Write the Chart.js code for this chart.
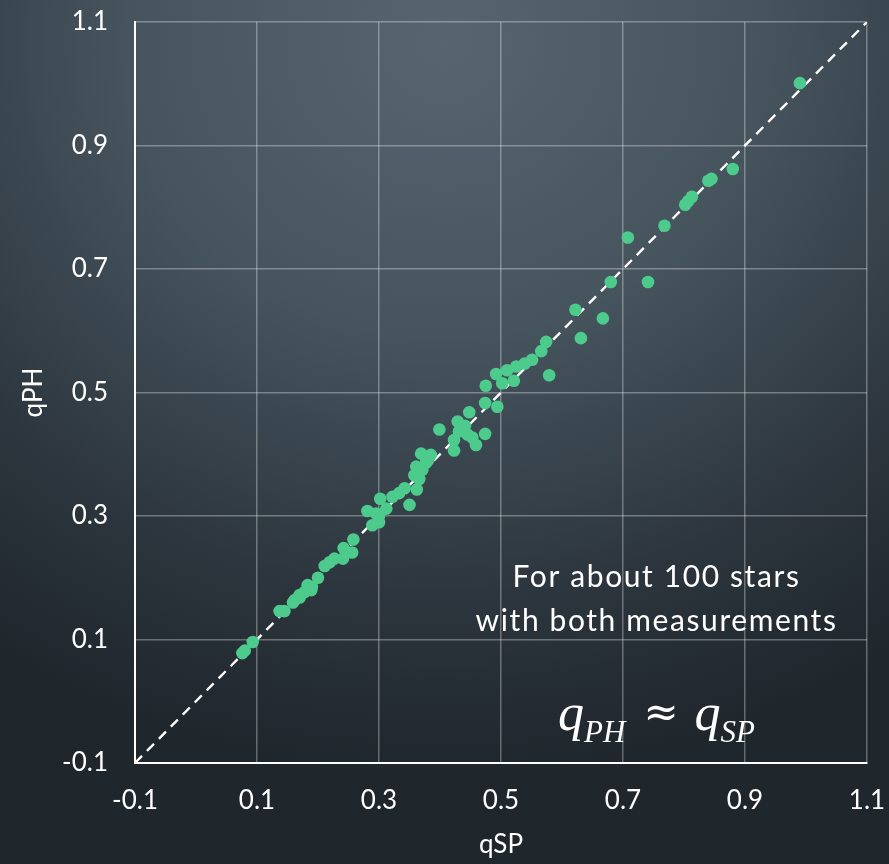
<!DOCTYPE html>
<html>
<head>
<meta charset="utf-8">
<script src="https://cdn.jsdelivr.net/npm/chart.js@4.4.1/dist/chart.umd.min.js"></script>
<style>
  html, body {
    margin: 0;
    padding: 0;
    width: 889px;
    height: 864px;
    overflow: hidden;
    background: radial-gradient(ellipse 90% 85% at 50% 5%, #56656f 0%, #46545e 40%, #2d363e 75%, #1f262c 100%);
  }
  #wrap { position: relative; width: 889px; height: 864px; }
</style>
</head>
<body>
<div id="wrap"><canvas id="qChart" width="889" height="864"></canvas></div>
<script>
// Spectroscopic vs photometric mass ratio
const qSP = [
  0.076, 0.080, 0.093, 0.137, 0.145, 0.159, 0.162, 0.170, 0.170, 0.178,
  0.183, 0.189, 0.190, 0.200, 0.211, 0.219, 0.227, 0.241, 0.242, 0.256,
  0.258, 0.281, 0.289, 0.295, 0.300, 0.300, 0.302, 0.312, 0.322, 0.333,
  0.342, 0.350, 0.362, 0.358, 0.366, 0.361, 0.371, 0.377, 0.380, 0.369,
  0.385, 0.399, 0.423, 0.423, 0.429, 0.431, 0.435, 0.441, 0.445, 0.453,
  0.459, 0.448, 0.474, 0.474, 0.494, 0.475, 0.492, 0.502, 0.510, 0.521,
  0.525, 0.539, 0.551, 0.566, 0.574, 0.579, 0.622, 0.631, 0.667, 0.680,
  0.708, 0.741, 0.768, 0.802, 0.807, 0.813, 0.840, 0.845, 0.880, 0.990
];
const qPH = [
  0.078, 0.082, 0.096, 0.146, 0.146, 0.160, 0.164, 0.172, 0.168, 0.177,
  0.188, 0.180, 0.185, 0.200, 0.219, 0.225, 0.231, 0.231, 0.248, 0.241,
  0.262, 0.308, 0.285, 0.304, 0.290, 0.300, 0.328, 0.312, 0.331, 0.337,
  0.345, 0.318, 0.343, 0.366, 0.360, 0.380, 0.375, 0.386, 0.390, 0.401,
  0.399, 0.440, 0.406, 0.423, 0.453, 0.437, 0.440, 0.446, 0.432, 0.427,
  0.415, 0.468, 0.433, 0.483, 0.477, 0.511, 0.530, 0.515, 0.536, 0.519,
  0.542, 0.547, 0.553, 0.567, 0.582, 0.528, 0.634, 0.588, 0.620, 0.679,
  0.751, 0.679, 0.770, 0.804, 0.810, 0.817, 0.843, 0.846, 0.862, 1.001
];
// one-to-one reference line
const oneToOne = [-0.1, 1.1];
// tick labels on both axes
const axisTicks = [-0.1, 0.1, 0.3, 0.5, 0.7, 0.9, 1.1];
const noteLines = ['For about 100 stars', 'with both measurements'];

const FONT = 'Lato, "Open Sans", sans-serif';

const points = qSP.map(function (x, i) { return { x: x, y: qPH[i] }; });
const linePoints = oneToOne.map(function (v) { return { x: v, y: v }; });

// text in the lower right corner
const notePlugin = {
  id: 'note',
  afterDraw: function (chart) {
    const ctx = chart.ctx;
    const xs = chart.scales.x;
    const ys = chart.scales.y;
    const cx = xs.getPixelForValue(0.755);
    ctx.save();
    ctx.fillStyle = '#ffffff';
    ctx.textAlign = 'center';
    ctx.textBaseline = 'middle';
    ctx.font = '30px ' + FONT;
    ctx.letterSpacing = '1.6px';
    ctx.fillText(noteLines[0], cx, ys.getPixelForValue(0.2));
    ctx.fillText(noteLines[1], cx, ys.getPixelForValue(0.129));
    ctx.letterSpacing = '0px';

    // q_PH ≈ q_SP
    const base = ys.getPixelForValue(-0.047);
    const big = 'italic 52px "Liberation Serif", "DejaVu Serif", serif';
    const sub = 'italic 31px "Liberation Serif", "DejaVu Serif", serif';
    const eq = '42px "DejaVu Serif", serif';
    const parts = [
      { t: 'q', f: big, dy: 0, gap: 0 },
      { t: 'PH', f: sub, dy: 12, gap: 0 },
      { t: '\u2248', f: eq, dy: -4, gap: 18 },
      { t: 'q', f: big, dy: 0, gap: 16 },
      { t: 'SP', f: sub, dy: 12, gap: 0 }
    ];
    let total = 0;
    parts.forEach(function (p) {
      ctx.font = p.f;
      p.w = ctx.measureText(p.t).width;
      total += p.w + p.gap;
    });
    let x = cx - total / 2;
    ctx.textAlign = 'left';
    ctx.textBaseline = 'alphabetic';
    parts.forEach(function (p) {
      ctx.font = p.f;
      x += p.gap;
      ctx.fillText(p.t, x, base + p.dy);
      x += p.w;
    });
    ctx.restore();
  }
};

function setTicks(scale) {
  scale.ticks = axisTicks.map(function (v) { return { value: v }; });
}

new Chart(document.getElementById('qChart'), {
  data: {
    datasets: [
      {
        type: 'scatter',
        data: points,
        backgroundColor: '#4ccb8d',
        borderWidth: 0,
        pointRadius: 6.3,
        pointHoverRadius: 6.3,
        order: 1
      },
      {
        type: 'line',
        data: linePoints,
        borderColor: '#ffffff',
        borderWidth: 2.4,
        borderDash: [10, 7],
        pointRadius: 0,
        fill: false,
        order: 2
      }
    ]
  },
  options: {
    responsive: false,
    animation: false,
    events: [],
    layout: { padding: { top: 22, right: 22, left: 0, bottom: 0 } },
    plugins: {
      legend: { display: false },
      tooltip: { enabled: false }
    },
    scales: {
      x: {
        type: 'linear',
        min: -0.1,
        max: 1.1,
        afterBuildTicks: setTicks,
        afterFit: function (scale) {
          scale.height = 101;
          scale.paddingLeft = 0;
          scale.paddingRight = 0;
        },
        grid: { color: 'rgba(255,255,255,0.32)', lineWidth: 1.5, drawTicks: false },
        border: { color: '#ffffff', width: 2 },
        ticks: {
          color: '#ffffff',
          font: { family: FONT, size: 26 },
          padding: 22,
          maxRotation: 0,
          callback: function (v) { return Number(v).toFixed(1); }
        },
        title: {
          display: true,
          text: 'qSP',
          color: '#ffffff',
          font: { family: FONT, size: 26 },
          padding: { top: 0, bottom: 4 }
        }
      },
      y: {
        type: 'linear',
        min: -0.1,
        max: 1.1,
        afterBuildTicks: setTicks,
        afterFit: function (scale) {
          scale.width = 135;
          scale.paddingTop = 0;
          scale.paddingBottom = 0;
        },
        grid: { color: 'rgba(255,255,255,0.32)', lineWidth: 1.5, drawTicks: false },
        border: { color: '#ffffff', width: 2 },
        ticks: {
          color: '#ffffff',
          font: { family: FONT, size: 26 },
          padding: 27,
          callback: function (v) { return Number(v).toFixed(1); }
        },
        title: {
          display: true,
          text: 'qPH',
          color: '#ffffff',
          font: { family: FONT, size: 26 },
          padding: { top: 18, bottom: 0 }
        }
      }
    }
  },
  plugins: [notePlugin]
});
</script>
</body>
</html>
